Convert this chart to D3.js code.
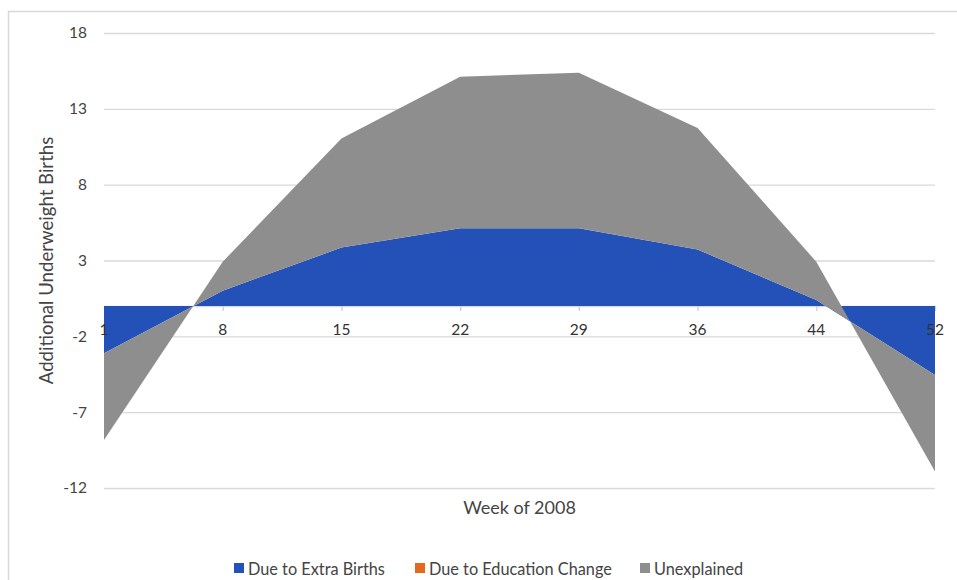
<!DOCTYPE html>
<html>
<head>
<meta charset="utf-8">
<script src="https://cdn.jsdelivr.net/npm/d3@7"></script>
<style>
  html, body { margin: 0; padding: 0; background: #fff; }
  svg { display: block; font-family: Lato, "Open Sans", sans-serif; }
</style>
</head>
<body>
<svg id="chart" width="957" height="580"></svg>
<script>
// Week of 2008 (category axis)
const weeks = ["1", "8", "15", "22", "29", "36", "44", "52"];
// Stacked components of additional underweight births
const extraBirths     = [-3.12, 1.01, 3.85, 5.12, 5.12, 3.72, 0.40, -4.55];
const educationChange = [0, 0, 0, 0, 0, 0, 0, 0];
const unexplained     = [-5.71, 1.91, 7.20, 10.00, 10.26, 8.01, 2.52, -6.37];
const yTicks = [-12, -7, -2, 3, 8, 13, 18];

const seriesNames = ["Due to Extra Births", "Due to Education Change", "Unexplained"];
const seriesColors = ["#2351b8", "#e4691f", "#8e8e8e"];
const seriesValues = [extraBirths, educationChange, unexplained];

const svg = d3.select("#chart");
const W = 957, H = 580;
const plot = { left: 104, right: 935, top: 33, bottom: 488 };
const textColor = "#444444";

// Chart frame
svg.append("rect")
  .attr("x", 8.5).attr("y", 11.5)
  .attr("width", W + 20).attr("height", H + 20)
  .attr("fill", "none").attr("stroke", "#d9d9d9").attr("stroke-width", 1.5);

const x = d3.scalePoint().domain(weeks).range([plot.left, plot.right]).padding(0);
const y = d3.scaleLinear().domain([-12, 18]).range([plot.bottom, plot.top]);

// Table for stacking (Excel-style cumulative stacking)
const rows = weeks.map((w, i) => {
  const r = { week: w };
  seriesNames.forEach((n, k) => { r[n] = seriesValues[k][i]; });
  return r;
});
const stacked = d3.stack().keys(seriesNames).offset(d3.stackOffsetNone)(rows);

// Horizontal gridlines and value labels
const yAxis = d3.axisLeft(y)
  .tickValues(yTicks)
  .tickFormat(d => String(d))
  .tickSize(-(plot.right - plot.left))
  .tickPadding(17);
const gy = svg.append("g").attr("transform", `translate(${plot.left},0)`).call(yAxis);
gy.select(".domain").remove();
gy.selectAll(".tick line").attr("stroke", "#d9d9d9").attr("stroke-width", 1.3);
gy.selectAll(".tick text")
  .attr("fill", textColor).attr("font-size", 15.5).attr("font-family", "Lato, sans-serif");

// Category axis at zero: line and tick marks
const gx = svg.append("g").attr("transform", `translate(0,${y(0)})`)
  .call(d3.axisBottom(x).tickSize(5).tickSizeOuter(0).tickFormat(""));
gx.select(".domain").attr("stroke", "#d9d9d9").attr("stroke-width", 1.3);
gx.selectAll(".tick line").attr("stroke", "#d0d0d0").attr("stroke-width", 1.3);

// Stacked areas
const area = d3.area()
  .x(d => x(d.data.week))
  .y0(d => y(d[0]))
  .y1(d => y(d[1]));

svg.append("g").selectAll("path")
  .data(stacked)
  .join("path")
  .attr("d", area)
  .attr("fill", (d, i) => seriesColors[i]);

// Category labels, drawn above the areas
svg.append("g").selectAll("text")
  .data(weeks)
  .join("text")
  .attr("x", d => x(d))
  .attr("y", 335)
  .attr("text-anchor", "middle")
  .attr("fill", "#333333")
  .attr("font-size", 15.5)
  .text(d => d);

// Axis titles
svg.append("text")
  .attr("x", (plot.left + plot.right) / 2).attr("y", 514)
  .attr("text-anchor", "middle").attr("fill", textColor)
  .attr("font-size", 18)
  .text("Week of 2008");

svg.append("text")
  .attr("transform", `translate(53,${(plot.top + plot.bottom) / 2}) rotate(-90)`)
  .attr("text-anchor", "middle").attr("fill", textColor)
  .attr("font-size", 18.6)
  .text("Additional Underweight Births");

// Legend
const legendX = [234, 415, 640];
const lg = svg.append("g").selectAll("g")
  .data(seriesNames)
  .join("g")
  .attr("transform", (d, i) => `translate(${legendX[i]},0)`);
lg.append("rect")
  .attr("x", 0).attr("y", 563).attr("width", 10).attr("height", 10)
  .attr("fill", (d, i) => seriesColors[i]);
lg.append("text")
  .attr("x", 14).attr("y", 575)
  .attr("fill", textColor).attr("font-size", 16.3)
  .text(d => d);
</script>
</body>
</html>
